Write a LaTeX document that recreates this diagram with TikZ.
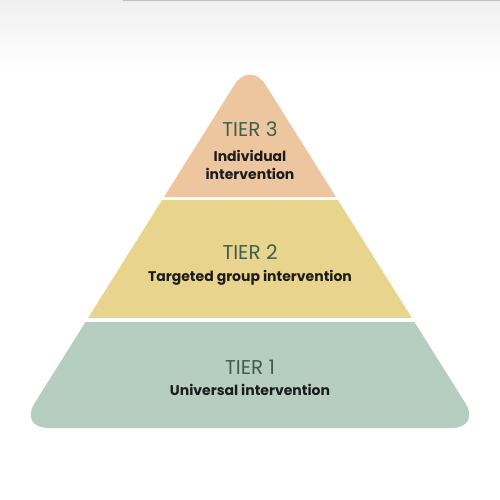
\documentclass[tikz,border=0pt]{standalone}
\usepackage{fontspec}
\setmainfont{Poppins}
\usepackage{tikz}
\definecolor{tierthreecol}{HTML}{EDC6A0}
\definecolor{tiertwocol}{HTML}{E8D48C}
\definecolor{tieronecol}{HTML}{B6CEBF}
\definecolor{tiertext}{HTML}{3F5E4F}
\definecolor{nametext}{HTML}{1C1C1C}
\tikzset{
  tierlabel/.style={text=tiertext, font=\fontsize{15}{18}\selectfont, inner sep=0pt},
  tiername/.style={text=nametext, font=\bfseries\fontsize{10.5}{13}\selectfont, align=center, inner sep=0pt}
}
\begin{document}
\begin{tikzpicture}[x=0.75pt, y=-0.75pt]
			\useasboundingbox (0,0) rectangle (500,500);
			\shade[top color=black!6, bottom color=white] (0,0) rectangle (500,70);
			\draw[black!25, line width=0.6pt] (123,0.5) -- (500,0.5);
			\begin{scope}
			\clip[rounded corners=22] (250,60) -- (481,428) -- (19,428) -- cycle;
			\fill[tierthreecol] (0,0) rectangle (500,197);
			\fill[tiertwocol] (0,200) rectangle (500,318);
			\fill[tieronecol] (0,322) rectangle (500,440);
			\end{scope}
			\node[tierlabel](t3) at (250,129){TIER 3};
			\node[tiername](n3) at (250,165){Individual\\intervention};
			\node[tierlabel](t2) at (250,252){TIER 2};
			\node[tiername](n2) at (250,278){Targeted group intervention};
			\node[tierlabel](t1) at (250,367){TIER 1};
			\node[tiername](n1) at (250,390){Universal intervention};
			\end{tikzpicture}
\end{document}
